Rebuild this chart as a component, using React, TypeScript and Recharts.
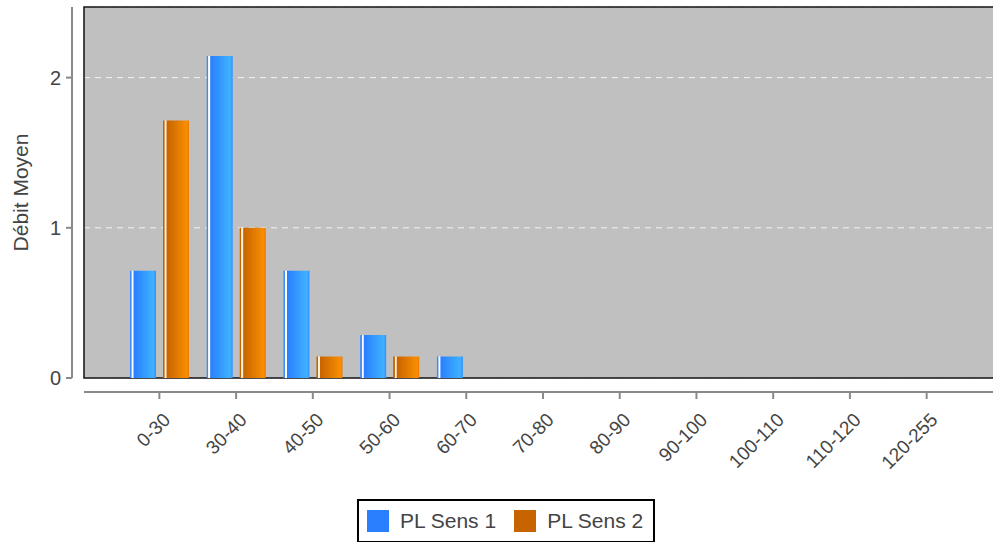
import { BarChart, Bar, XAxis, YAxis, CartesianGrid, Legend, usePlotArea } from "recharts";

const categories = ["0-30", "30-40", "40-50", "50-60", "60-70", "70-80", "80-90", "90-100", "100-110", "110-120", "120-255"];
const sens1 = [0.714, 2.143, 0.714, 0.286, 0.143, 0, 0, 0, 0, 0, 0];
const sens2 = [1.714, 1, 0.143, 0.143, 0, 0, 0, 0, 0, 0, 0];
const yTicks = [0, 1, 2];
const seriesNames = ["PL Sens 1", "PL Sens 2"];
const seriesColors = ["#2a7fff", "#c86400"];

const data = categories.map((c, i) => ({ name: c, s1: sens1[i], s2: sens2[i] }));

const font = "'Liberation Sans', Arial, sans-serif";
const textColor = "#444";

function Frame() {
  const plot = usePlotArea();
  if (!plot) return null;
  const { x, y, width, height } = plot;
  const bottom = y + height;
  return (
    <g>
      <path d={`M${x + width + 20},${y} H${x} V${bottom} H${x + width + 20}`} stroke="#111" strokeWidth={1.5} fill="none" />
      <line x1={x - 12} y1={y} x2={x - 12} y2={bottom} stroke="#8a8a8a" strokeWidth={2} />
      <line x1={x} y1={bottom + 14} x2={x + width} y2={bottom + 14} stroke="#8a8a8a" strokeWidth={2} />
    </g>
  );
}

function YTick(props: any) {
  const { x, y, payload } = props;
  return (
    <g>
      <line x1={x - 18} y1={y} x2={x - 12} y2={y} stroke="#8a8a8a" strokeWidth={2} />
      <text x={x - 23} y={y} dy={7} textAnchor="end" fontSize={20} fill={textColor} fontFamily={font}>
        {payload.value}
      </text>
    </g>
  );
}

function XTick(props: any) {
  const { x, y, payload } = props;
  return (
    <g>
      <line x1={x} y1={y + 14} x2={x} y2={y + 21} stroke="#8a8a8a" strokeWidth={2} />
      <text
        x={x + 12}
        y={y + 43}
        textAnchor="end"
        fontSize={19}
        fill={textColor}
        fontFamily={font}
        transform={`rotate(-45 ${x + 12} ${y + 43})`}
      >
        {payload.value}
      </text>
    </g>
  );
}

function LegendBox() {
  return (
    <div
      style={{
        display: "inline-flex",
        alignItems: "center",
        border: "2px solid #000",
        padding: "8px 10px 8px 8px",
        fontFamily: font,
        fontSize: 21,
        color: textColor,
        background: "#fff",
        lineHeight: "24px",
      }}
    >
      {seriesNames.map((n, i) => (
        <span key={n} style={{ display: "inline-flex", alignItems: "center", marginRight: i === 0 ? 18 : 0 }}>
          <span style={{ width: 22, height: 22, background: seriesColors[i], display: "inline-block", marginRight: 11 }} />
          {n}
        </span>
      ))}
    </div>
  );
}

export default function App() {
  return (
    <div style={{ position: "absolute", left: 0, top: 0, width: 993, height: 542, overflow: "hidden", background: "#fff" }}>
      <BarChart
        width={993}
        height={542}
        data={data}
        margin={{ top: 7, right: 0, left: 0, bottom: 0 }}
        barSize={26}
        barGap={7}
      >
        <defs>
          <linearGradient id="gBlue" x1="0" y1="0" x2="1" y2="0">
            <stop offset="0" stopColor="#3a8aff" />
            <stop offset="0.05" stopColor="#3a8aff" />
            <stop offset="0.07" stopColor="#ffffff" />
            <stop offset="0.12" stopColor="#ffffff" />
            <stop offset="0.15" stopColor="#2a7fff" />
            <stop offset="0.75" stopColor="#3aa8ff" />
            <stop offset="0.9" stopColor="#40b0ff" />
            <stop offset="1" stopColor="#3090ff" />
          </linearGradient>
          <linearGradient id="gOrange" x1="0" y1="0" x2="1" y2="0">
            <stop offset="0" stopColor="#c86400" />
            <stop offset="0.05" stopColor="#c86400" />
            <stop offset="0.07" stopColor="#fff0e0" />
            <stop offset="0.12" stopColor="#fff0e0" />
            <stop offset="0.15" stopColor="#c86400" />
            <stop offset="0.8" stopColor="#f08800" />
            <stop offset="0.92" stopColor="#ff8c00" />
            <stop offset="1" stopColor="#e07a00" />
          </linearGradient>
        </defs>
        <CartesianGrid fill="#c0c0c0" stroke="#f4f4f4" strokeDasharray="6 5" vertical={false} />
        <Frame />
        <XAxis
          dataKey="name"
          interval={0}
          height={114}
          tickSize={0}
          tickMargin={0}
          axisLine={false}
          tickLine={false}
          padding={{ left: 37, right: 28 }}
          tick={<XTick />}
        />
        <YAxis
          width={84}
          domain={[0, 2.47]}
          ticks={yTicks}
          tickSize={0}
          tickMargin={0}
          axisLine={false}
          tickLine={false}
          tick={<YTick />}
          label={{
            value: "Débit Moyen",
            angle: -90,
            position: "insideLeft",
            dx: 16,
            style: { textAnchor: "middle", fontSize: 21, fill: textColor, fontFamily: font },
          }}
        />
        <Bar dataKey="s1" name={seriesNames[0]} fill="url(#gBlue)" isAnimationActive={false} />
        <Bar dataKey="s2" name={seriesNames[1]} fill="url(#gOrange)" isAnimationActive={false} />
        <Legend
          content={<LegendBox />}
          wrapperStyle={{ position: "absolute", left: 357, top: 499, width: "auto", height: 50 }}
        />
      </BarChart>
    </div>
  );
}
